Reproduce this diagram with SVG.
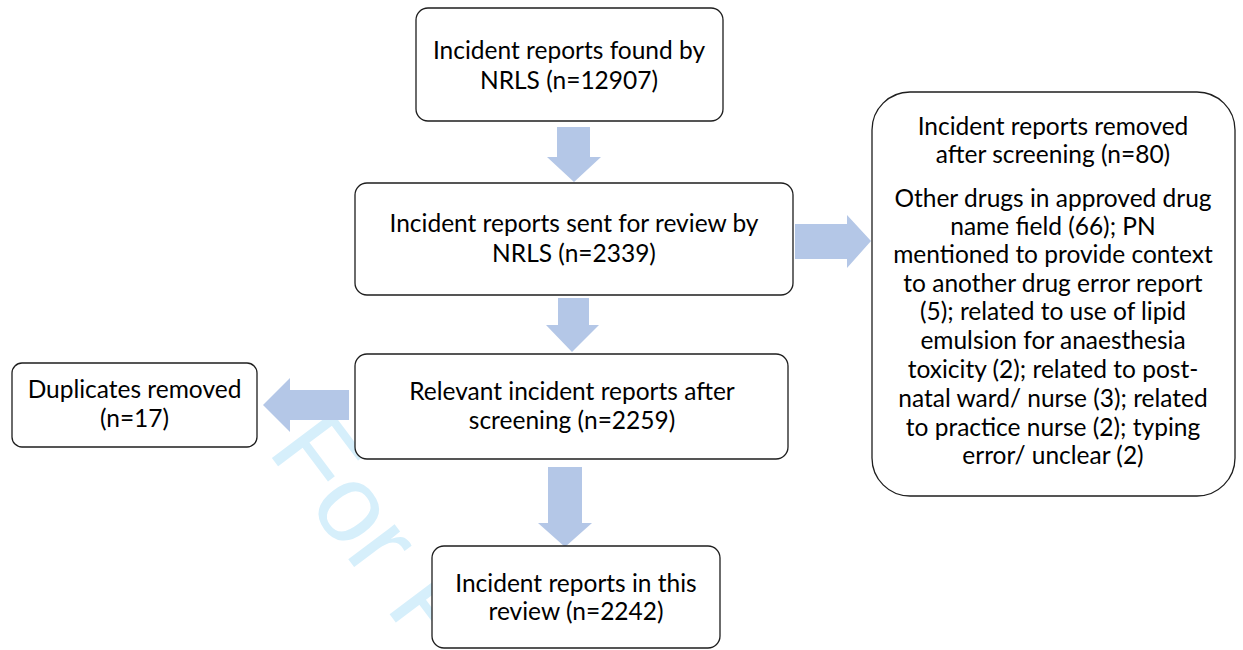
<svg xmlns="http://www.w3.org/2000/svg" width="1243" height="650" viewBox="0 0 1243 650">
<style>
.box{fill:#ffffff;stroke:#1e1e1e;stroke-width:1.3}
.arrow{fill:#b4c7e7;stroke:none}
.t{font-family:Lato,"Liberation Sans",sans-serif;font-size:24.5px;fill:#000;text-anchor:middle}
.wm{font-family:"Liberation Sans",Arial,sans-serif;font-size:110px;fill:#d6effb}
</style>
<rect x="0" y="0" width="1243" height="650" fill="#ffffff"/>
<g id="watermark">
<text class="wm" transform="translate(266.6,450.8) rotate(53)">For P</text>
</g>
<g id="connectors">
<polygon class="arrow" points="557,127 590,127 590,157 601,157 574,182 547,157 557,157"/>
<polygon class="arrow" points="558,298 589,298 589,325 599,325 572,352 546,325 558,325"/>
<polygon class="arrow" points="548,467 582,467 582,523 592,523 565,547 538,523 548,523"/>
<polygon class="arrow" points="349,390 290,390 290,378 263,405 290,432 290,420 349,420"/>
<polygon class="arrow" points="795,224 847,224 847,215 871,241 847,268 847,259 795,259"/>
</g>
<g id="node-found">
<rect class="box" x="416" y="8" width="307" height="113" rx="12"/>
<text class="t" x="569" y="59">Incident reports found by</text>
<text class="t" x="569" y="89">NRLS (n=12907)</text>
</g>
<g id="node-sent">
<rect class="box" x="355" y="183" width="438" height="112" rx="12"/>
<text class="t" x="574" y="232">Incident reports sent for review by</text>
<text class="t" x="574" y="262">NRLS (n=2339)</text>
</g>
<g id="node-relevant">
<rect class="box" x="355" y="354" width="433" height="105" rx="12"/>
<text class="t" x="572" y="400">Relevant incident reports after</text>
<text class="t" x="572" y="429">screening (n=2259)</text>
</g>
<g id="node-duplicates">
<rect class="box" x="12" y="363" width="245" height="84" rx="10"/>
<text class="t" x="134.5" y="398">Duplicates removed</text>
<text class="t" x="134.5" y="427">(n=17)</text>
</g>
<g id="node-review">
<rect class="box" x="432" y="546" width="288" height="102" rx="12"/>
<text class="t" x="576" y="592">Incident reports in this</text>
<text class="t" x="576" y="620">review (n=2242)</text>
</g>
<g id="node-removed">
<rect class="box" x="872" y="92" width="363" height="404" rx="38"/>
<text class="t" x="1053" y="135">Incident reports removed</text>
<text class="t" x="1053" y="163">after screening (n=80)</text>
<text class="t" x="1053" y="207">Other drugs in approved drug</text>
<text class="t" x="1053" y="235">name field (66); PN</text>
<text class="t" x="1053" y="263">mentioned to provide context</text>
<text class="t" x="1053" y="292">to another drug error report</text>
<text class="t" x="1053" y="320">(5); related to use of lipid</text>
<text class="t" x="1053" y="349">emulsion for anaesthesia</text>
<text class="t" x="1053" y="378">toxicity (2); related to post-</text>
<text class="t" x="1053" y="407">natal ward/ nurse (3); related</text>
<text class="t" x="1053" y="436">to practice nurse (2); typing</text>
<text class="t" x="1053" y="464">error/ unclear (2)</text>
</g>
</svg>
